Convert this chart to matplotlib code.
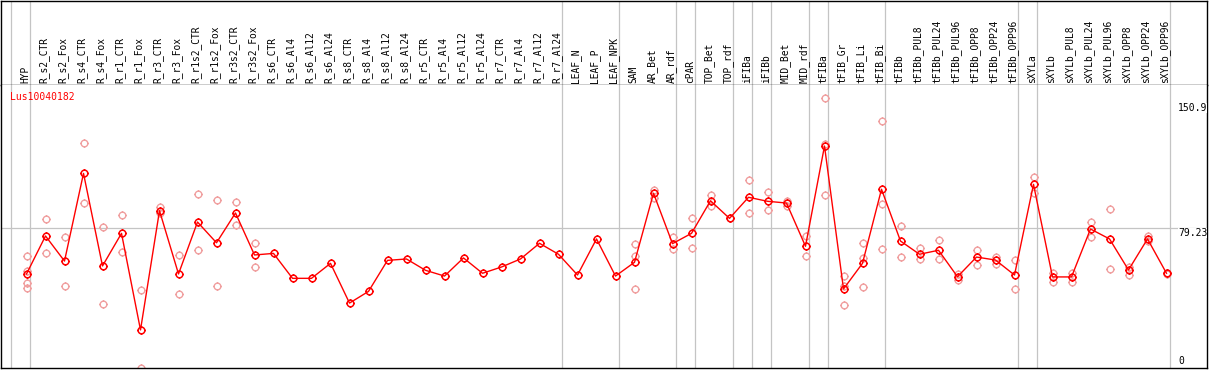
import matplotlib
matplotlib.use('Agg')
import matplotlib.pyplot as plt
from matplotlib.path import Path

samples = ['HYP', 'R_s2_CTR', 'R_s2_Fox', 'R_s4_CTR', 'R_s4_Fox', 'R_r1_CTR', 'R_r1_Fox',
           'R_r3_CTR', 'R_r3_Fox', 'R_r1s2_CTR', 'R_r1s2_Fox', 'R_r3s2_CTR', 'R_r3s2_Fox',
           'R_s6_CTR', 'R_s6_Al4', 'R_s6_Al12', 'R_s6_Al24', 'R_s8_CTR', 'R_s8_Al4',
           'R_s8_Al12', 'R_s8_Al24', 'R_r5_CTR', 'R_r5_Al4', 'R_r5_Al12', 'R_r5_Al24',
           'R_r7_CTR', 'R_r7_Al4', 'R_r7_Al12', 'R_r7_Al24', 'LEAF_N', 'LEAF_P', 'LEAF_NPK',
           'SAM', 'AR_Bet', 'AR_rdf', 'cPAR', 'TOP_Bet', 'TOP_rdf', 'iFIBa', 'iFIBb',
           'MID_Bet', 'MID_rdf', 'tFIBa', 'tFIB_Gr', 'tFIB_Li', 'tFIB_Bi', 'tFIBb',
           'tFIBb_PUL8', 'tFIBb_PUL24', 'tFIBb_PUL96', 'tFIBb_OPP8', 'tFIBb_OPP24',
           'tFIBb_OPP96', 'sXYLa', 'sXYLb', 'sXYLb_PUL8', 'sXYLb_PUL24', 'sXYLb_PUL96',
           'sXYLb_OPP8', 'sXYLb_OPP24', 'sXYLb_OPP96']

means = [52.8, 74.6, 60.2, 110.5, 57.4, 76.1, 20.7, 89.1, 52.8, 82.6, 70.7, 87.8, 63.7,
         64.6, 50.3, 50.3, 58.9, 36.1, 42.8, 60.6, 61.4, 54.9, 51.6, 62.0, 53.2, 56.8,
         61.4, 70.4, 64.1, 52.2, 72.9, 51.6,
         59.5, 99.1, 70.2, 76.1, 94.8, 84.7, 96.8, 94.5, 93.5, 68.7, 126.2, 44.2, 58.9,
         101.4, 71.7, 64.1, 66.4, 51.2, 62.5, 60.8, 52.2, 104.2, 51.1, 51.1, 78.6, 72.9,
         55.1, 72.9, 53.2]

reps = [[63.1, 54.7, 47.4, 44.6], [84.2, 64.6], [74.0, 45.9], [127.8, 93.5], [79.6, 35.6],
        [86.4, 65.2], [43.4, -1.3], [91.4, 87.6], [63.5, 41.1], [98.7, 66.4], [95.2, 45.9],
        [94.1, 80.7], [70.4, 56.8],
        [], [], [], [], [], [], [], [], [], [], [], [], [], [], [], [], [], [], [],
        [69.8, 63.0, 44.0], [101.0, 96.2], [74.2, 67.3], [84.7, 67.5], [98.1, 91.8],
        [84.7], [106.5, 87.6], [99.6, 89.3], [94.7, 92.0], [74.6, 62.9],
        [153.6, 127.4, 97.9], [51.6, 46.1, 34.8], [70.4, 61.8, 45.2], [140.4, 92.8, 67.1],
        [80.3, 62.5], [67.5, 61.6], [72.3, 61.2], [52.8, 49.3], [66.6, 57.8], [62.5, 58.5],
        [60.8, 44.0], [108.2, 99.4], [53.5, 48.0], [53.5, 48.0], [82.6, 74.2], [90.1, 55.5],
        [57.0, 52.4], [74.8, 71.9], [53.5, 52.8]]

# columns after which a grey separator is drawn
group_ends = [-1, 0, 28, 31, 34, 35, 37, 38, 39, 41, 42, 45, 52, 53, 60]

gene = 'Lus10040182'

W, H = 1209, 370
fig = plt.figure(figsize=(W / 100, H / 100), dpi=100)

# pixel geometry
x_lim = ((1 - 26.5) / 19, (1207 - 26.5) / 19)
top_px, head_px, bot_px = 0.5, 85, 368
head = fig.add_axes([1 / W, 1 - head_px / H, 1206 / W, (head_px - top_px) / H])
ax = fig.add_axes([1 / W, 1 - bot_px / H, 1206 / W, (bot_px - head_px) / H])

mono = 'DejaVu Sans Mono'
grey = '#c4c4c4'

for a in (head, ax):
    a.set_xlim(*x_lim)
    a.set_xticks([])
    a.set_yticks([])
    for s in a.spines.values():
        s.set_color('black')
        s.set_linewidth(1.0)
    for g in group_ends:
        a.axvline(g + 0.2, color=grey, lw=0.9, zorder=0)

head.set_ylim(head_px, 0)
for i, name in enumerate(samples):
    head.text(i - 0.08, 83, name, rotation=90, ha='center', va='bottom',
              fontsize=6.9, family=mono)

# y scale: 0 -> 366 px, 1.743 px per unit
ax.set_ylim((366 - bot_px) / 1.743, (366 - head_px) / 1.743)
ax.spines['top'].set_visible(False)

ax.axhline(79.23, color=grey, lw=0.9, zorder=0)

# marker: circle with four tiny ticks
circ = Path.unit_circle()
verts = list(circ.vertices)
codes = list(circ.codes)
for x0, y0, x1, y1 in [(0, 1, 0, 1.25), (0, -1, 0, -1.25), (1, 0, 1.25, 0), (-1, 0, -1.25, 0)]:
    verts += [(x0, y0), (x1, y1)]
    codes += [Path.MOVETO, Path.LINETO]
mk = Path(verts, codes)

rx, ry = [], []
for i, r in enumerate(reps):
    for v in r:
        rx.append(i)
        ry.append(v)
ax.plot(rx, ry, linestyle='none', marker=mk, markersize=6.0, mfc='none',
        mec='#f0a0a0', mew=1.0, zorder=2)

ax.plot(range(len(means)), means, color='#ff0000', lw=1.0, marker=mk,
        markersize=6.0, mfc='none', mec='#ff0000', mew=1.1, zorder=3)

ax.text((10 - 26.5) / 19, (366 - 97) / 1.743, gene, color='#ff0000', fontsize=7,
        family=mono, ha='left', va='center')

tx = (1178 - 26.5) / 19
ax.text(tx, 150.9, '150.9', fontsize=7, family=mono, ha='left', va='top',
        bbox=dict(facecolor='white', edgecolor='none', pad=0))
ax.text(tx, 79.23, '79.23', fontsize=7, family=mono, ha='left', va='top',
        bbox=dict(facecolor='white', edgecolor='none', pad=0))
ax.text(tx, 0, '0', fontsize=7, family=mono, ha='left', va='bottom')

fig.savefig('out.png', dpi=100)
